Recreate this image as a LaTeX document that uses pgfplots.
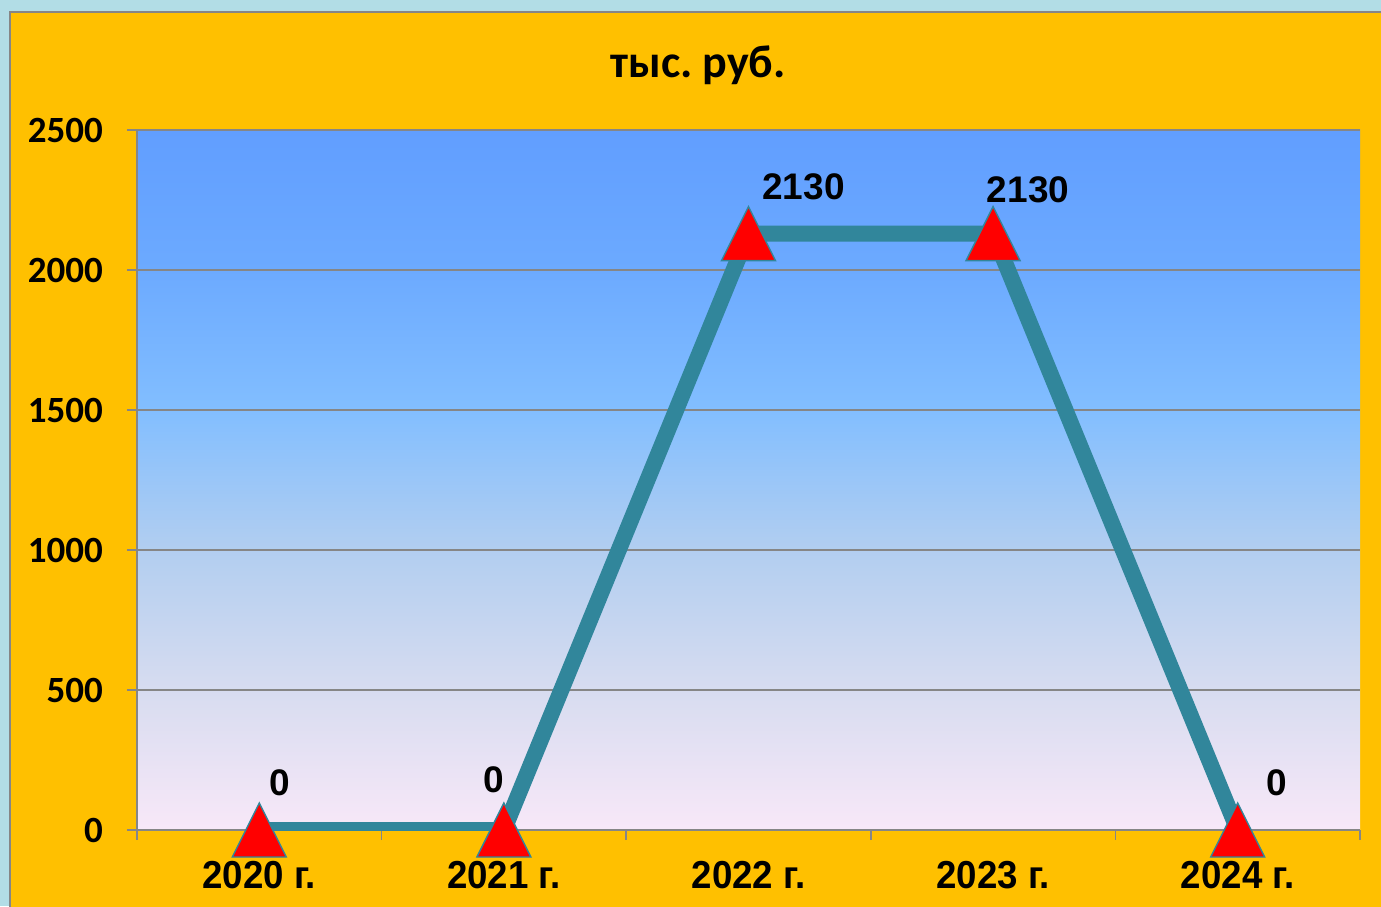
\documentclass[border=0pt]{standalone}
\usepackage{fontspec}
\usepackage{graphicx}
\usepackage{pgfplots}
\usepackage{pgfplotstable}
\pgfplotsset{compat=1.18}
\setmainfont{Liberation Sans}
\newfontfamily\carlito{Carlito}
\definecolor{orangebg}{HTML}{FFC000}
\definecolor{framebg}{HTML}{B2DDE6}
\definecolor{linec}{HTML}{31869B}
\definecolor{gridc}{HTML}{868686}
\definecolor{bgtop}{RGB}{97,158,255}
\definecolor{bgb}{RGB}{108,170,255}
\definecolor{bgc}{RGB}{130,190,255}
\definecolor{bgd}{RGB}{178,206,240}
\definecolor{bge}{RGB}{215,220,240}
\definecolor{bgbot}{RGB}{248,232,248}
\pgfdeclareverticalshading{bgshade}{100bp}{color(0bp)=(bgbot); color(25bp)=(bgbot); color(35bp)=(bge); color(45bp)=(bgd); color(55bp)=(bgc); color(65bp)=(bgb); color(75bp)=(bgtop); color(100bp)=(bgtop)}
\pgfdeclareplotmark{tri}{%
  \pgfpathmoveto{\pgfqpoint{0pt}{13.5pt}}%
  \pgfpathlineto{\pgfqpoint{13.5pt}{-13.5pt}}%
  \pgfpathlineto{\pgfqpoint{-13.5pt}{-13.5pt}}%
  \pgfpathclose
  \pgfusepathqfillstroke}
\pgfplotstableread{
x y dx dy
0 0 10 23.5
1 0 -5 25
2 2130 27.5 23.5
3 2130 17.5 22
4 0 19.5 23.5
}\datatable
\begin{document}
\begin{tikzpicture}
\path[use as bounding box] (0,0) rectangle (690.5pt,453pt);
\fill[framebg] (0,0) rectangle (690.5pt,453pt);
\filldraw[fill=orangebg, draw=gridc, line width=0.8pt] (5pt,-2pt) rectangle (693pt,447pt);
\node[font=\carlito\bfseries\fontsize{23}{23}\selectfont] at (349pt,420.5pt) {тыс.\ руб.};
\begin{axis}[
  at={(68.5pt,38pt)}, anchor=south west,
  scale only axis, width=611.5pt, height=350pt,
  xmin=-0.5, xmax=4.5, ymin=0, ymax=2500,
  axis x line*=bottom, axis y line*=left,
  axis line style={gridc, line width=0.8pt},
  ytick={0,500,1000,1500,2000,2500},
  yticklabels={0,500,1000,1500,2000,2500},
  xtick={0,1,2,3,4},
  xticklabels={\scalebox{0.94}[1]{2020 г.},\scalebox{0.94}[1]{2021 г.},\scalebox{0.94}[1]{2022 г.},\scalebox{0.94}[1]{2023 г.},\scalebox{0.94}[1]{2024 г.}},
  minor xtick={-0.5,0.5,1.5,2.5,3.5,4.5},
  major x tick style={draw=none},
  minor x tick style={gridc, line width=0.8pt},
  y tick style={gridc, line width=0.8pt},
  tick align=outside,
  major tick length=5pt, minor tick length=5pt,
  ymajorgrids, grid style={gridc, line width=0.8pt},
  yticklabel style={font=\carlito\bfseries\fontsize{18.5}{18.5}\selectfont, xshift=-8.5pt},
  xticklabel style={font=\bfseries\fontsize{19.5}{19.5}\selectfont, yshift=-7pt},
  axis background/.style={shading=bgshade},
  clip mode=individual,
]
\addplot[color=linec, line width=8pt, mark=tri,
  mark options={fill=red, draw=linec, line width=0.7pt},
  point meta=explicit symbolic,
  visualization depends on={\thisrow{dx}\as\dx},
  visualization depends on={\thisrow{dy}\as\dy},
  nodes near coords,
  nodes near coords style={anchor=center, xshift=\dx pt, yshift=\dy pt, font=\bfseries\fontsize{18.5}{18.5}\selectfont, text=black},
] table[x=x, y=y, meta=y] {\datatable};
\end{axis}
\end{tikzpicture}
\end{document}
